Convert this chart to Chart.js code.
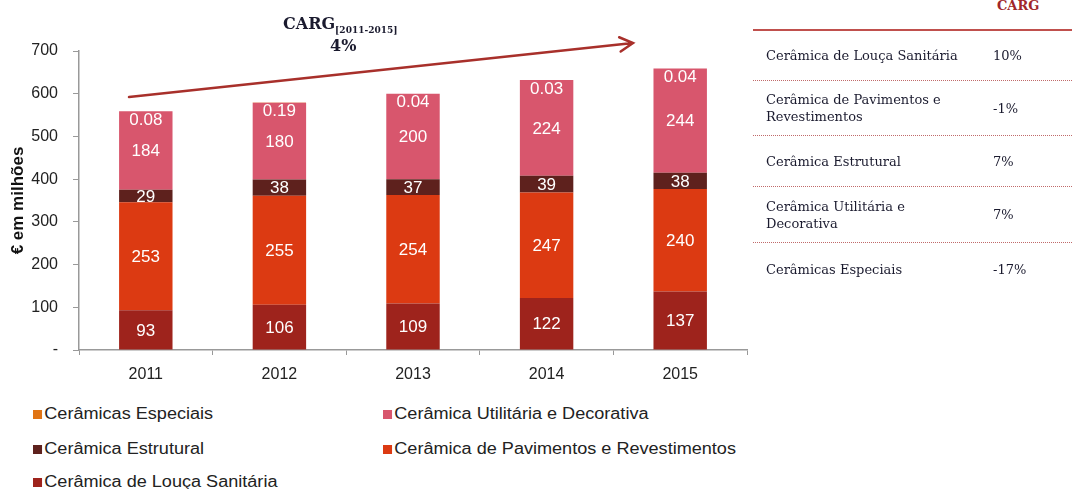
<!DOCTYPE html>
<html>
<head>
<meta charset="utf-8">
<script src="https://cdn.jsdelivr.net/npm/chart.js@4.4.0/dist/chart.umd.min.js"></script>
<style>
  body { margin: 0; background: #fff; width: 1072px; height: 489px; overflow: hidden; position: relative; font-family: "Liberation Sans", Arial, sans-serif; }
  #wrap { position: absolute; left: 0; top: 0; width: 760px; height: 400px; }
  .carg { position: absolute; font-family: "DejaVu Serif", Georgia, serif; font-weight: bold; color: #1a1a2e; }
  .legend-item { position: absolute; font-size: 16px; color: #222; white-space: nowrap; line-height: 18px; transform: scaleX(1.13); transform-origin: left center; }
  .legend-item span.sw { display: inline-block; width: 8px; height: 9px; margin-right: 2px; vertical-align: 0px; }
  #table { position: absolute; left: 753px; top: 0; width: 319px; font-family: "DejaVu Serif", Georgia, serif; font-size: 13px; color: #1a1a2e; }
  #table .hdr { position: absolute; left: 244px; top: -2px; color: #a0262a; font-weight: bold; font-size: 13px; }
  #table .line { position: absolute; left: 0; top: 29px; width: 319px; height: 2px; background: #c0504d; }
  #table .row { position: absolute; left: 0; width: 319px; border-bottom: 1px dotted #c06a6a; display: flex; align-items: center; }
  #table .row .nm { width: 227px; padding-left: 13px; line-height: 17px; }
</style>
</head>
<body>
<div id="wrap"><canvas id="chart"></canvas></div>
<div class="carg" style="left:283px; top:14px; font-size:16px;">CARG<sub style="font-size:9px; vertical-align:-4px;">[2011-2015]</sub></div>
<div class="carg" style="left:330px; top:36px; font-size:16px;">4%</div>
<div id="legend"></div>
<div id="table">
  <div class="hdr">CARG</div>
  <div class="line"></div>
</div>
<script>
const years = ['2011', '2012', '2013', '2014', '2015'];
const louca = [93, 106, 109, 122, 137];
const pavimentos = [253, 255, 254, 247, 240];
const estrutural = [29, 38, 37, 39, 38];
const utilitaria = [184, 180, 200, 224, 244];
const especiais = [0.08, 0.19, 0.04, 0.03, 0.04];
const yTicks = [0, 100, 200, 300, 400, 500, 600, 700];

const cargNames = ['Cerâmica de Louça Sanitária', 'Cerâmica de Pavimentos e Revestimentos', 'Cerâmica Estrutural', 'Cerâmica Utilitária e Decorativa', 'Cerâmicas Especiais'];
const cargValues = ['10%', '-1%', '7%', '7%', '-17%'];

const COLORS = {
  louca: '#9e231c',
  pavimentos: '#dc3a12',
  estrutural: '#5e211d',
  utilitaria: '#d8566d',
  especiais: '#e07414',
};

const datasets = [
  { label: 'Cerâmica de Louça Sanitária', data: louca, backgroundColor: COLORS.louca },
  { label: 'Cerâmica de Pavimentos e Revestimentos', data: pavimentos, backgroundColor: COLORS.pavimentos },
  { label: 'Cerâmica Estrutural', data: estrutural, backgroundColor: COLORS.estrutural },
  { label: 'Cerâmica Utilitária e Decorativa', data: utilitaria, backgroundColor: COLORS.utilitaria },
  { label: 'Cerâmicas Especiais', data: especiais, backgroundColor: COLORS.especiais },
];

// value labels in the segments
const segLabels = {
  id: 'segLabels',
  afterDatasetsDraw(chart) {
    const ctx = chart.ctx;
    ctx.save();
    ctx.font = '17px "Liberation Sans", Arial, sans-serif';
    ctx.fillStyle = '#fff';
    ctx.textAlign = 'center';
    ctx.textBaseline = 'middle';
    chart.data.datasets.forEach((ds, di) => {
      chart.getDatasetMeta(di).data.forEach((bar, i) => {
        const v = ds.data[i];
        let y = (bar.y + bar.base) / 2;
        if (di === 4) y = bar.y + 8;
        ctx.fillText(String(v), bar.x, y + 1);
      });
    });
    ctx.restore();
  }
};

// trend arrow above the bars
const trendArrow = {
  id: 'trendArrow',
  afterDraw(chart) {
    const ctx = chart.ctx;
    const a = chart.chartArea;
    const x0 = a.left + 50, y0 = a.top + 46;
    const x1 = a.left + 554, y1 = a.top - 8;
    ctx.save();
    ctx.strokeStyle = '#a8302b';
    ctx.lineWidth = 2.5;
    ctx.lineCap = 'round';
    ctx.beginPath();
    ctx.moveTo(x0, y0);
    ctx.lineTo(x1, y1);
    const ang = Math.atan2(y1 - y0, x1 - x0);
    const h = 15;
    ctx.moveTo(x1 - h * Math.cos(ang - 0.5), y1 - h * Math.sin(ang - 0.5));
    ctx.lineTo(x1, y1);
    ctx.lineTo(x1 - h * Math.cos(ang + 0.5), y1 - h * Math.sin(ang + 0.5));
    ctx.stroke();
    ctx.restore();
  }
};

new Chart(document.getElementById('chart'), {
  type: 'bar',
  data: { labels: years, datasets },
  options: {
    responsive: true,
    maintainAspectRatio: false,
    animation: false,
    layout: { padding: { top: 51, right: 13, left: 0, bottom: 0 } },
    plugins: { legend: { display: false }, tooltip: { enabled: false } },
    datasets: { bar: { categoryPercentage: 0.4, barPercentage: 1 } },
    scales: {
      x: {
        stacked: true,
        afterFit: s => { s.height = 50; },
        grid: { offset: true, drawOnChartArea: false, drawTicks: true, tickLength: 5, color: '#999' },
        border: { color: '#999', width: 1.5 },
        ticks: { color: '#222', font: { size: 16, family: '"Liberation Sans", Arial, sans-serif' }, padding: 10 },
      },
      y: {
        stacked: true,
        min: 0,
        max: 700,
        afterFit: s => { s.width = 79; },
        afterBuildTicks: s => { s.ticks = yTicks.map(v => ({ value: v })); },
        grid: { drawOnChartArea: false, drawTicks: true, tickLength: 6, color: '#999' },
        border: { color: '#999', width: 1.5 },
        ticks: {
          color: '#222',
          padding: 15,
          font: { size: 16, family: '"Liberation Sans", Arial, sans-serif' },
          callback: v => v === 0 ? '-' : v,
        },
        title: {
          display: true,
          text: '€ em milhões',
          color: '#111',
          font: { size: 17, weight: 'bold', family: '"Liberation Sans", Arial, sans-serif' },
          padding: { top: 8, bottom: 0 },
        },
      },
    },
  },
  plugins: [segLabels, trendArrow],
});

// legend (two columns, order as in the original)
const legendOrder = [
  { i: 4, x: 33, y: 405 },
  { i: 3, x: 383, y: 405 },
  { i: 2, x: 33, y: 440 },
  { i: 1, x: 383, y: 440 },
  { i: 0, x: 33, y: 473 },
];
const legendEl = document.getElementById('legend');
legendOrder.forEach(o => {
  const d = document.createElement('div');
  d.className = 'legend-item';
  d.style.left = o.x + 'px';
  d.style.top = o.y + 'px';
  d.innerHTML = `<span class="sw" style="background:${datasets[o.i].backgroundColor}"></span>${datasets[o.i].label}`;
  legendEl.appendChild(d);
});

// CARG table
const rowBoxes = [[31, 49], [81, 54], [136, 50], [187, 55], [243, 52]];
const tableEl = document.getElementById('table');
cargNames.forEach((n, k) => {
  const r = document.createElement('div');
  r.className = 'row';
  r.style.top = rowBoxes[k][0] + 'px';
  r.style.height = rowBoxes[k][1] + 'px';
  if (k === cargNames.length - 1) r.style.borderBottom = 'none';
  const label = n === 'Cerâmica de Pavimentos e Revestimentos' ? 'Cerâmica de Pavimentos e<br>Revestimentos'
              : n === 'Cerâmica Utilitária e Decorativa' ? 'Cerâmica Utilitária e<br>Decorativa' : n;
  r.innerHTML = `<div class="nm">${label}</div><div class="val">${cargValues[k]}</div>`;
  tableEl.appendChild(r);
});
</script>
</body>
</html>
